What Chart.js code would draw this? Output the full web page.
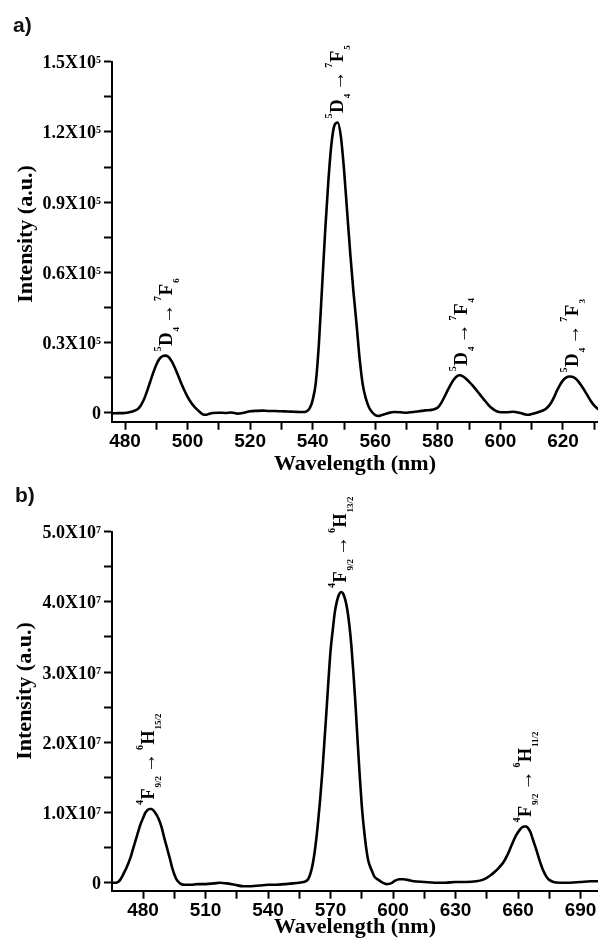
<!DOCTYPE html>
<html>
<head>
<meta charset="utf-8">
<script src="https://cdn.jsdelivr.net/npm/chart.js@4"></script>
<style>
  html,body{margin:0;padding:0;background:#fff;}
  #wrap{position:relative;width:598px;height:943px;background:#fff;overflow:hidden;}
  canvas{position:absolute;left:0;}
</style>
</head>
<body>
<div id="wrap">
  <canvas id="ca" width="598" height="478" style="top:0"></canvas>
  <canvas id="cb" width="598" height="465" style="top:478px"></canvas>
</div>
<script>
// ---------- Panel a) : Tb emission ----------
const waveA = [476,478,480,482,484,485,486,487,488,489,
  490,491,492,493,494,495,496,497,498,499,
  500,501,502,503,504,505,506,507,508,510,
  512,514,516,518,520,522,524,526,528,530,
  532,534,536,537,538,539,540,541,542,543,
  544,545,546,547,548,549,550,551,552,553,
  554,555,556,557,558,559,560,561,562,564,
  566,568,570,572,574,576,578,580,581,582,
  583,584,585,586,587,588,589,590,591,592,
  593,594,595,596,597,598,599,600,602,604,
  606,608,609,610,612,614,615,616,617,618,
  619,620,621,622,623,624,625,626,627,628,
  629,630,631,632];
const intA = [-300,-200,-100,400,1500,3000,5500,9000,13000,17000,
  20500,23000,24200,24400,23700,21800,19000,15800,12500,9500,
  6800,4600,2800,1400,200,-800,-900,-400,-100,0,
  -100,100,-400,0,600,800,900,700,700,600,
  500,400,300,300,600,1800,5500,13000,30000,54000,
  78000,99000,115000,123000,124000,118000,104000,86000,68000,52000,
  38000,23000,12000,6000,2200,200,-1000,-1400,-1000,-200,
  300,200,0,300,600,1000,1200,2200,4000,6500,
  9200,11800,14000,15500,16000,15500,14500,13200,11800,10200,
  8500,6800,5200,3600,2200,1200,500,200,200,400,
  0,-800,-900,-600,200,1200,2200,3800,6200,9200,
  11800,13800,15000,15500,15400,14600,13200,11300,9200,7000,
  4800,3000,1800,1000];
const xMajorA = [480,500,520,540,560,580,600,620];
const xMinorA = [490,510,530,550,570,590,610,630];
const yMajorA = [0,30000,60000,90000,120000,150000];
const yMinorA = [15000,45000,75000,105000,135000];
const yLabelsA = ['0','0.3X10^5','0.6X10^5','0.9X10^5','1.2X10^5','1.5X10^5'];
const annotWaveA = [492.8,547.6,587,622.5];
const annotTextA = [['5','D','4','7','F','6'],['5','D','4','7','F','5'],['5','D','4','7','F','4'],['5','D','4','7','F','3']];

// ---------- Panel b) : Dy emission ----------
const waveB = [465,467,468,469,470,471,472,473,474,475,
  476,477,478,479,480,481,482,483,484,485,
  486,487,488,489,490,491,492,493,494,495,
  496,497,498,500,503,506,510,514,517,520,
  524,528,532,536,540,544,548,552,555,557,
  559,560,561,562,563,564,565,566,567,568,
  569,570,571,572,573,574,575,576,577,578,
  579,580,581,582,583,584,585,586,587,588,
  589,590,591,593,595,597,599,601,603,605,
  607,610,615,620,625,630,635,640,643,645,
  647,649,651,653,655,657,659,661,662,663,
  664,665,666,667,668,669,670,671,672,673,
  674,675,677,680,685,690,695,699];
const intB = [0,0,100000,400000,900000,1500000,2100000,2800000,3600000,4600000,
  5600000,6600000,7600000,8500000,9200000,9900000,10300000,10500000,10500000,10300000,
  9900000,9400000,8700000,7800000,6600000,5500000,4400000,3300000,2100000,1200000,
  500000,100000,-150000,-300000,-300000,-200000,-200000,-100000,0,-100000,
  -300000,-500000,-500000,-400000,-300000,-300000,-200000,-100000,0,100000,
  400000,1000000,2000000,3600000,5800000,8600000,11800000,15500000,19800000,24200000,
  28800000,33000000,35800000,38400000,40000000,41000000,41400000,41200000,40400000,39000000,
  36800000,33800000,29800000,25300000,20200000,15300000,11000000,7800000,5200000,3300000,
  2300000,1600000,900000,400000,0,-200000,-100000,300000,500000,500000,
  400000,200000,100000,0,0,100000,100000,200000,400000,700000,
  1100000,1600000,2200000,2900000,4000000,5400000,6700000,7600000,7900000,8000000,
  8000000,7700000,7200000,6300000,5400000,4500000,3500000,2600000,1800000,1200000,
  700000,400000,100000,0,0,100000,200000,200000];
const xMajorB = [480,510,540,570,600,630,660,690];
const xMinorB = [495,525,555,585,615,645,675];
const yMajorB = [0,10000000,20000000,30000000,40000000,50000000];
const yMinorB = [5000000,15000000,25000000,35000000,45000000];
const yLabelsB = ['0','1.0X10^7','2.0X10^7','3.0X10^7','4.0X10^7','5.0X10^7'];
const annotWaveB = [483.7,575,664];
const annotTextB = [['4','F','9/2','6','H','15/2'],['4','F','9/2','6','H','13/2'],['4','F','9/2','6','H','11/2']];

const SERIF = '"Liberation Serif","Times New Roman",serif';
const SANS = '"Liberation Sans",Arial,sans-serif';

function peakOf(waves, ints, w){
  let best = -Infinity;
  waves.forEach((x,i)=>{ if (Math.abs(x-w) <= 2 && ints[i] > best) best = ints[i]; });
  return best;
}

function drawTransition(ctx, px, py, parts, dx, big){
  ctx.save();
  ctx.translate(px + dx, py - 4);
  ctx.rotate(-Math.PI/2);
  ctx.textAlign = 'left';
  ctx.textBaseline = 'alphabetic';
  ctx.fillStyle = '#000';
  const M = big ? 19 : 18;
  const seq = [
    {t:parts[0], f:'bold 10px '+SERIF, v:-11, g:0.5},
    {t:parts[1], f:'bold '+M+'px '+SERIF, v:0, g:1},
    {t:parts[2], f:'bold 9px '+SERIF, v:7, g:3},
    {t:'→', f:'20px '+SERIF, v:1, g:3},
    {t:parts[3], f:'bold 10px '+SERIF, v:-11, g:0.5},
    {t:parts[4], f:'bold '+M+'px '+SERIF, v:0, g:1},
    {t:parts[5], f:'bold 9px '+SERIF, v:7, g:0}
  ];
  let u = 0;
  seq.forEach(s=>{
    ctx.font = s.f;
    ctx.fillText(s.t, u, s.v);
    u += ctx.measureText(s.t).width + s.g;
  });
  ctx.restore();
}

function decor(opt){
  return {
    id:'decor',
    afterDraw(chart){
      const ctx = chart.ctx;
      const xs = chart.scales.x, ys = chart.scales.y;
      ctx.save();
      // panel letter
      ctx.font = 'bold 21px '+SANS;
      ctx.textAlign = 'left';
      ctx.textBaseline = 'alphabetic';
      ctx.fillStyle = '#111';
      ctx.fillText(opt.panel, opt.panelX, opt.panelY);
      ctx.fillStyle = '#000';
      // y tick labels with superscript exponent
      const rightX = chart.chartArea.left - 11;
      opt.yMajor.forEach((v,i)=>{
        const py = ys.getPixelForValue(v);
        const parts = opt.yLabels[i].split('^');
        let x = rightX;
        ctx.textAlign = 'right';
        if (parts.length > 1){
          ctx.font = 'bold 10px '+SERIF;
          ctx.fillText(parts[1], x, py + 1.5);
          x -= ctx.measureText(parts[1]).width;
        }
        ctx.font = 'bold 18px '+SERIF;
        ctx.fillText(parts[0], x, py + 6.5);
      });
      // y title
      ctx.save();
      ctx.translate(opt.yTitleX, opt.yTitleCy);
      ctx.rotate(-Math.PI/2);
      ctx.font = 'bold 22px '+SERIF;
      ctx.textAlign = 'center';
      ctx.fillText('Intensity (a.u.)', 0, 0);
      ctx.restore();
      // x title
      ctx.font = 'bold 22px '+SERIF;
      ctx.textAlign = 'center';
      ctx.fillText('Wavelength (nm)', (chart.chartArea.left + chart.chartArea.right)/2, opt.xTitleY);
      // transition labels
      opt.annotWave.forEach((w,i)=>{
        const pv = peakOf(opt.waves, opt.ints, w);
        drawTransition(ctx, xs.getPixelForValue(w), ys.getPixelForValue(pv), opt.annotText[i], opt.dx[i], opt.big);
      });
      ctx.restore();
    }
  };
}

function makeChart(id, o){
  const allX = o.xMajor.concat(o.xMinor).sort((a,b)=>a-b);
  const allY = o.yMajor.concat(o.yMinor).sort((a,b)=>a-b);
  return new Chart(document.getElementById(id), {
    type:'line',
    data:{datasets:[{
      data: o.waves.map((x,i)=>({x:x, y:o.ints[i]})),
      borderColor:'#000', borderWidth:2.6, pointRadius:0,
      cubicInterpolationMode:'monotone', fill:false
    }]},
    options:{
      responsive:false, animation:false, events:[],
      layout:{padding:{top:o.padTop, left:0, right:0, bottom:0}},
      plugins:{legend:{display:false}, tooltip:{enabled:false}, title:{display:false}},
      scales:{
        x:{
          type:'linear', min:o.xMin, max:o.xMax,
          afterBuildTicks:s=>{ s.ticks = allX.map(v=>({value:v})); },
          afterFit:s=>{ s.height = o.xAxisH; },
          ticks:{autoSkip:false, maxRotation:0, minRotation:0, padding:1, color:'#000',
            font:{family:SANS, size:19, weight:'bold'},
            callback:(v)=> o.xMajor.includes(v) ? String(v) : ''},
          grid:{drawOnChartArea:false, drawTicks:true, tickLength:8, tickColor:'#000', tickWidth:2},
          border:{display:true, color:'#000', width:2}
        },
        y:{
          type:'linear', min:o.yMin, max:o.yMax,
          afterBuildTicks:s=>{ s.ticks = allY.map(v=>({value:v})); },
          afterFit:s=>{ s.width = 112; },
          ticks:{display:false},
          grid:{drawOnChartArea:false, drawTicks:true, tickLength:8, tickColor:'#000', tickWidth:2},
          border:{display:true, color:'#000', width:2}
        }
      }
    },
    plugins:[decor(o)]
  });
}

makeChart('ca', {
  waves:waveA, ints:intA, xMajor:xMajorA, xMinor:xMinorA, yMajor:yMajorA, yMinor:yMinorA, yLabels:yLabelsA,
  xMin:475.84, xMax:631.19, yMin:-3846, yMax:150000,
  padTop:61.7, xAxisH:478-421.7,
  panel:'a)', panelX:13, panelY:32,
  yTitleX:31.5, yTitleCy:234, xTitleY:469.5,
  annotWave:annotWaveA, annotText:annotTextA, dx:[7,7,7,7], big:true
});

makeChart('cb', {
  waves:waveB, ints:intB, xMajor:xMajorB, xMinor:xMinorB, yMajor:yMajorB, yMinor:yMinorB, yLabels:yLabelsB,
  xMin:465.1, xMax:698.4, yMin:-1140000, yMax:50000000,
  padTop:531.7-478, xAxisH:465-(890.7-478),
  panel:'b)', panelX:15, panelY:24,
  yTitleX:31, yTitleCy:213, xTitleY:454.5,
  annotWave:annotWaveB, annotText:annotTextB, dx:[3,5,5], big:false
});
</script>
</body>
</html>
